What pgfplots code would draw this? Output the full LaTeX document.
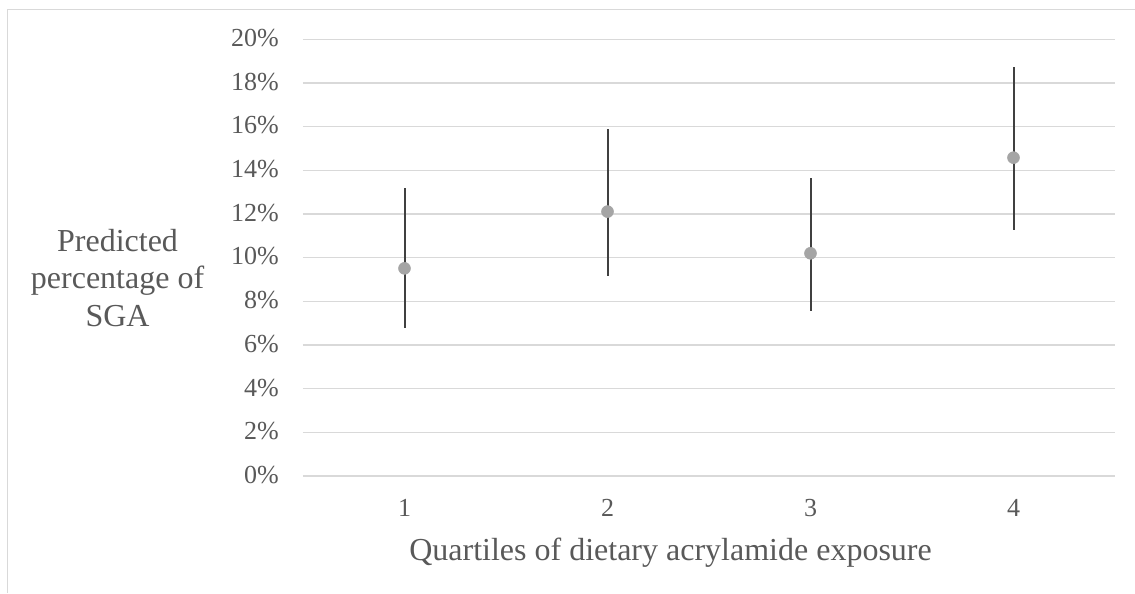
\documentclass[border=0pt]{standalone}
\usepackage{fontspec}
\setmainfont{Liberation Serif}
\usepackage{pgfplots}
\pgfplotsset{compat=1.18}
\definecolor{txtgray}{HTML}{595959}
\definecolor{gridgray}{HTML}{D9D9D9}
\definecolor{bargray}{HTML}{404040}
\definecolor{markgray}{HTML}{A5A5A5}
\begin{document}
\begin{tikzpicture}
\useasboundingbox (0,0) rectangle (851.25pt,444.75pt);
\draw[gridgray, line width=0.75pt] (5.625pt,0) -- (5.625pt,437.6pt) -- (851.25pt,437.6pt);
\begin{axis}[
  at={(227.25pt,87.75pt)}, anchor=south west,
  scale only axis, width=609pt, height=327.5pt,
  xmin=0.5, xmax=4.5, ymin=0, ymax=20,
  xtick={1,2,3,4},
  xticklabels={1,2,3,4},
  ytick={0,2,4,6,8,10,12,14,16,18,20},
  yticklabels={0\%,2\%,4\%,6\%,8\%,10\%,12\%,14\%,16\%,18\%,20\%},
  /pgf/number format/assume math mode=true,
  ymajorgrids,
  grid style={gridgray, line width=1pt},
  axis line style={draw=none},
  major tick length=0pt,
  tick label style={font=\fontsize{19.5}{22}\selectfont, text=txtgray},
  xticklabel style={anchor=base, yshift=-30pt},
  yticklabel style={anchor=base east, inner sep=0pt, xshift=-18pt, yshift=-5.5pt},
  clip=false,
  xlabel={Quartiles of dietary acrylamide exposure},
  xlabel style={font=\fontsize{24}{28}\selectfont, text=txtgray, at={(axis description cs:0.4526,-0.1924)}, anchor=base},
  ylabel={Predicted\\percentage of\\SGA},
  ylabel style={font=\fontsize{24}{28.1}\selectfont, text=txtgray, rotate=-90, align=center, at={(axis description cs:-0.2284,0.4534)}, anchor=center},
]
\addplot[only marks, color=markgray, mark=*, mark size=4.5pt,
  mark options={fill=markgray, draw=none},
  error bars/.cd, y dir=both, y explicit,
  error bar style={bargray, line width=1.5pt}, error mark=none]
  table[x=x, y=y, y error plus=ep, y error minus=em] {
x y ep em
1 9.51 3.67 2.72
2 12.11 3.77 2.95
3 10.20 3.44 2.64
4 14.58 4.14 3.31
};
\end{axis}
\end{tikzpicture}
\end{document}
